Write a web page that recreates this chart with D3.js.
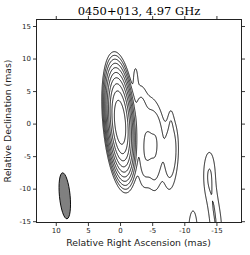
<!DOCTYPE html>
<html>
<head>
<meta charset="utf-8">
<script src="https://cdn.jsdelivr.net/npm/d3@7/dist/d3.min.js"></script>
<style>
  html, body { margin: 0; padding: 0; background: #fff; }
  svg { display: block; }
</style>
</head>
<body>
<div id="chart"></div>
<script>
// ---------------- data ----------------
const titleText = "0450+013, 4.97 GHz";
const xLabel = "Relative Right Ascension (mas)";
const yLabel = "Relative Declination (mas)";
const xTicks = [10, 5, 0, -5, -10, -15];
const yTicks = [15, 10, 5, 0, -5, -10, -15];
const xDomain = [13, -18.9];
const yDomain = [16, -15.2];

// contour levels, % of peak
const contourLevels = [0.1, 0.2, 0.4, 0.8, 1.6, 3.2, 6.4, 12.8, 25.6, 51.2];

// brightness components (beam-convolved): position (mas), peak (%), FWHM axes (mas), PA (deg)
const compRA   = [0.0,  -2.4, -3.2, -4.8, -4.2, -3.7, -5.8, -5.4, -8.0, -7.9, -7.6, -13.9, -15.0, -14.5, -11.35];
const compDec  = [0.2,   7.0,  1.5,  0.5, -3.4, -6.0, -2.0, -6.2, -3.5,  0.5, -6.8,  -8.0, -16.5, -12.5, -16.8];
const compAmp  = [100,  0.13, 0.28, 0.15, 0.25, 0.20, 0.25, 0.24, 0.28, 0.08, 0.15,  0.21,  0.18,  0.10,  0.24];
const compMaj  = [6.9,  4.0,  6.9,  6.9,  5.5,  6.9,  6.9,  6.9,  6.9,  3.5,  6.9,   6.9,   6.9,   5.0,   6.0];
const compMin  = [1.7,  0.7,  1.7,  1.7,  1.4,  1.7,  1.7,  1.7,  1.7,  0.7,  1.7,   1.7,   1.7,   1.4,   1.2];
const compPA   = [5,    0,    0,    0,    0,    0,    0,    0,    0,    0,    0,     0,     0,     0,     0];

// restoring beam
const beamRA  = [8.6];
const beamDec = [-11.1];
const beamMaj = [7.1];
const beamMin = [1.66];
const beamPA  = [5.5];

// ---------------- layout ----------------
const W = 250, H = 255;
const plotL = 36.5, plotR = 241.5, plotT = 19.5, plotB = 222.5;

const svg = d3.select("#chart").append("svg")
  .attr("width", W).attr("height", H)
  .style("font-family", "'DejaVu Sans', sans-serif");

svg.append("rect").attr("width", W).attr("height", H).attr("fill", "#fff");

const x = d3.scaleLinear().domain(xDomain).range([plotL, plotR]);
const y = d3.scaleLinear().domain(yDomain).range([plotT, plotB]);

// ---------------- model grid ----------------
const step = 0.1;
const raStart = 16, raEnd = -22, decStart = 19, decEnd = -21;
const nx = Math.round((raStart - raEnd) / step) + 1;
const ny = Math.round((decStart - decEnd) / step) + 1;
const values = new Float64Array(nx * ny);
const k4 = 4 * Math.LN2;
for (let j = 0; j < ny; j++) {
  const dec = decStart - j * step;
  for (let i = 0; i < nx; i++) {
    const ra = raStart - i * step;
    let v = 0;
    for (let c = 0; c < compRA.length; c++) {
      const th = compPA[c] * Math.PI / 180;
      const dx = ra - compRA[c], dy = dec - compDec[c];
      const u = dx * Math.sin(th) + dy * Math.cos(th);
      const w = dx * Math.cos(th) - dy * Math.sin(th);
      v += compAmp[c] * Math.exp(-k4 * (u * u / (compMaj[c] * compMaj[c]) + w * w / (compMin[c] * compMin[c])));
    }
    values[j * nx + i] = v;
  }
}

const contours = d3.contours().size([nx, ny]).thresholds(contourLevels)(values);

const proj = d3.geoTransform({
  point: function(gx, gy) {
    this.stream.point(x(raStart - (gx - 0.5) * step), y(decStart - (gy - 0.5) * step));
  }
});
const path = d3.geoPath(proj);

svg.append("clipPath").attr("id", "plotclip")
  .append("rect").attr("x", plotL).attr("y", plotT)
  .attr("width", plotR - plotL).attr("height", plotB - plotT);

svg.append("g").attr("clip-path", "url(#plotclip)")
  .selectAll("path").data(contours).join("path")
  .attr("d", path)
  .attr("fill", "none")
  .attr("stroke", "#000")
  .attr("stroke-width", 0.9)
  .attr("stroke-linejoin", "round");

// beam
svg.append("g").selectAll("ellipse").data(beamRA).join("ellipse")
  .attr("cx", (d, i) => x(beamRA[i]))
  .attr("cy", (d, i) => y(beamDec[i]))
  .attr("rx", (d, i) => Math.abs(x(0) - x(beamMin[i] / 2)))
  .attr("ry", (d, i) => Math.abs(y(0) - y(beamMaj[i] / 2)))
  .attr("transform", (d, i) => `rotate(${-beamPA[i]},${x(beamRA[i])},${y(beamDec[i])})`)
  .attr("fill", "#808080")
  .attr("stroke", "#000")
  .attr("stroke-width", 0.9);

// ---------------- axes ----------------
function styleAxis(g) {
  g.select(".domain").remove();
  g.selectAll(".tick line").attr("stroke", "#222").attr("stroke-width", 0.9);
  g.selectAll(".tick text").attr("fill", "#222")
    .style("font-size", "7px").style("font-family", "'DejaVu Sans', sans-serif");
}
svg.append("g").attr("transform", `translate(0,${plotB})`)
  .call(d3.axisBottom(x).tickValues(xTicks).tickSize(3.5).tickPadding(2).tickFormat(d3.format("d")))
  .call(styleAxis);
svg.append("g").attr("transform", `translate(0,${plotT})`)
  .call(d3.axisTop(x).tickValues(xTicks).tickSize(3.5).tickFormat(""))
  .call(styleAxis);
svg.append("g").attr("transform", `translate(${plotL},0)`)
  .call(d3.axisLeft(y).tickValues(yTicks).tickSize(3.5).tickPadding(2).tickFormat(d3.format("d")))
  .call(styleAxis);
svg.append("g").attr("transform", `translate(${plotR},0)`)
  .call(d3.axisRight(y).tickValues(yTicks).tickSize(3.5).tickFormat(""))
  .call(styleAxis);

svg.selectAll(".tick text").text(function() { return this.textContent.replace("\u2212", "-"); });

// frame
svg.append("rect")
  .attr("x", plotL).attr("y", plotT)
  .attr("width", plotR - plotL).attr("height", plotB - plotT)
  .attr("fill", "none").attr("stroke", "#222").attr("stroke-width", 1);

// ---------------- texts ----------------
svg.append("text")
  .attr("x", 139).attr("y", 14.8)
  .attr("text-anchor", "middle")
  .style("font-family", "'DejaVu Serif', serif")
  .style("font-size", "11.5px")
  .attr("fill", "#000")
  .text(titleText);

svg.append("text")
  .attr("x", 138.5).attr("y", 246.3)
  .attr("text-anchor", "middle")
  .style("font-size", "9.3px")
  .attr("fill", "#222")
  .text(xLabel);

svg.append("text")
  .attr("transform", "translate(11.3,121) rotate(-90)")
  .attr("text-anchor", "middle")
  .style("font-size", "9.3px")
  .attr("fill", "#222")
  .text(yLabel);
</script>
</body>
</html>
